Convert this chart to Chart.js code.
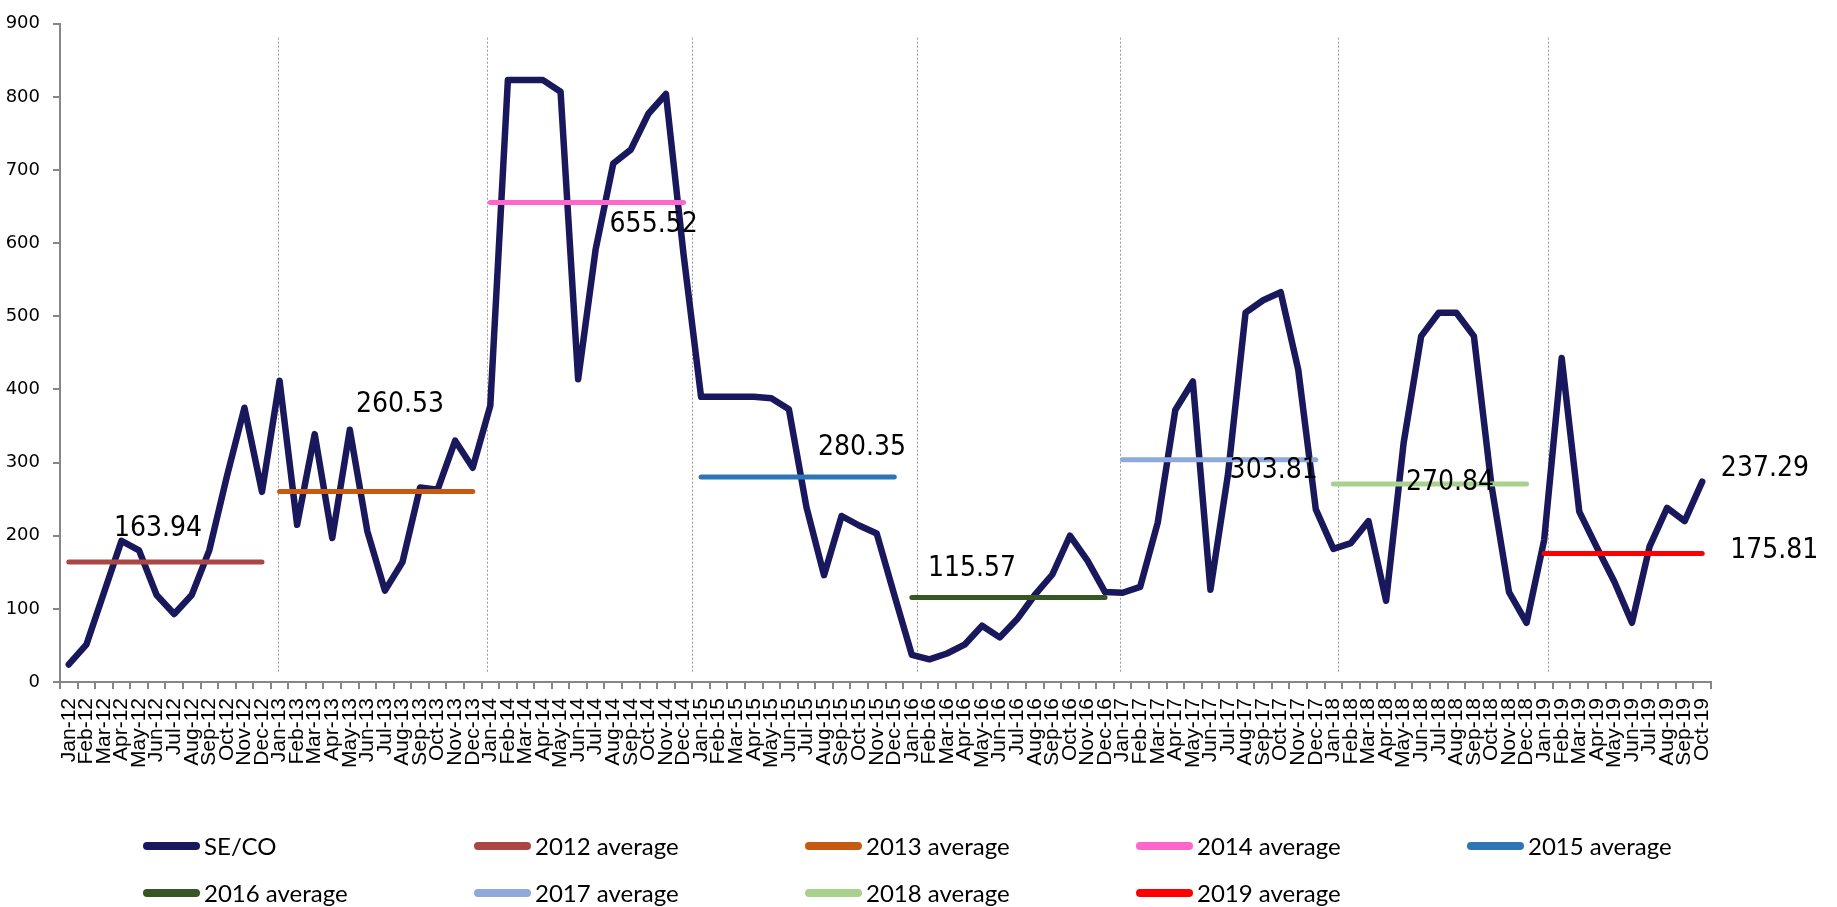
<!DOCTYPE html>
<html>
<head>
<meta charset="utf-8">
<script src="https://cdn.jsdelivr.net/npm/chart.js@4.4.1/dist/chart.umd.min.js"></script>
<style>
  html, body { margin: 0; padding: 0; background: #fff; }
  #wrap { position: relative; width: 1837px; height: 907px; overflow: hidden; }
  #legend {
    position: absolute; left: 143px; top: 822px;
    display: grid; grid-template-columns: repeat(5, 331px); grid-auto-rows: 47px;
    font-family: Lato, "Open Sans", sans-serif; font-size: 24px; color: #000;
  }
  #legend .item { display: flex; align-items: center; white-space: nowrap; }
  #legend .sw { width: 57px; height: 8px; border-radius: 4px; margin-right: 4px; flex: none; }
</style>
</head>
<body>
<div id="wrap">
  <canvas id="chart" width="1837" height="907"></canvas>
  <div id="legend"></div>
</div>
<script>
// Month and year parts of the category labels
const monthNames = ['Jan', 'Feb', 'Mar', 'Apr', 'May', 'Jun', 'Jul', 'Aug', 'Sep', 'Oct', 'Nov', 'Dec'];
const yearSuffixes = ['12', '13', '14', '15', '16', '17', '18', '19'];

// SE/CO monthly values, one array per year
const seco2012 = [24, 51, 122, 193, 180, 119, 93, 119, 180, 281, 375, 260];
const seco2013 = [412, 215, 339, 197, 345, 206, 125, 164, 266, 263, 330, 293];
const seco2014 = [378, 823, 823, 823, 807, 414, 592, 709, 728, 777, 804, 585];
const seco2015 = [390, 390, 390, 390, 388, 373, 239, 146, 227, 214, 203, 119];
const seco2016 = [37, 31, 39, 51, 77, 61, 86, 119, 147, 200, 166, 123];
const seco2017 = [122, 130, 218, 372, 411, 126, 284, 505, 522, 533, 427, 236];
const seco2018 = [182, 190, 220, 111, 327, 473, 505, 505, 473, 269, 123, 81];
const seco2019 = [194, 443, 233, 184, 137, 81, 185, 238, 220, 274];

// Yearly averages
const yearAverages = [163.94, 260.53, 655.52, 280.35, 115.57, 303.81, 270.84, 175.81];
const averageNames = ['2012 average', '2013 average', '2014 average', '2015 average',
                      '2016 average', '2017 average', '2018 average', '2019 average'];
const averageColors = ['#AA4643', '#C65A11', '#FF66CC', '#2E75B6',
                       '#375623', '#8EA9DB', '#A9D18E', '#FF0000'];

// Text annotations: text, category position, value position
const noteTexts = ['163.94', '260.53', '655.52', '280.35', '115.57', '303.81', '270.84', '237.29', '175.81'];
const noteIndex = [5.08, 18.86, 33.3, 45.16, 51.43, 68.6, 78.64, 96.57, 97.1];
const noteValue = [210, 379, 625, 321, 155, 289, 272, 291, 179];

// y axis ticks
const yMin = 0, yMax = 900, yStep = 100;
// dotted year separators: category positions and value span
const dividerIndex = [11.9, 23.8, 35.5, 48.3, 59.85, 72.25, 84.2];
const dividerFrom = 12, dividerTo = 881;

const seriesByYear = [seco2012, seco2013, seco2014, seco2015, seco2016, seco2017, seco2018, seco2019];

const categories = [];
const yearStart = [];
seriesByYear.forEach((vals, y) => {
  yearStart.push(categories.length);
  vals.forEach((_, m) => categories.push(monthNames[m] + '-' + yearSuffixes[y]));
});
const secoValues = seriesByYear.flat();

const averageDatasets = yearAverages.map((avg, y) => {
  const data = categories.map(() => null);
  for (let i = 0; i < seriesByYear[y].length; i++) data[yearStart[y] + i] = avg;
  return {
    label: averageNames[y],
    data,
    borderColor: averageColors[y],
    backgroundColor: averageColors[y],
    borderWidth: 5,
    borderCapStyle: 'round',
    pointRadius: 0,
    pointHoverRadius: 0,
    spanGaps: false,
    order: 0
  };
});

const secoDataset = {
  label: 'SE/CO',
  data: secoValues,
  borderColor: '#1A185C',
  backgroundColor: '#1A185C',
  borderWidth: 6.5,
  borderCapStyle: 'round',
  borderJoinStyle: 'round',
  pointRadius: 0,
  pointHoverRadius: 0,
  tension: 0,
  order: 10
};

// Dotted separators between years
const yearDividers = {
  id: 'yearDividers',
  beforeDatasetsDraw(chart) {
    const { ctx, scales: { x, y } } = chart;
    ctx.save();
    ctx.strokeStyle = '#9a9a9a';
    ctx.lineWidth = 1;
    ctx.setLineDash([2, 2]);
    const top = y.getPixelForValue(dividerTo);
    const bottom = y.getPixelForValue(dividerFrom);
    dividerIndex.forEach(idx => {
      const px = Math.round(x.getPixelForValue(idx)) + 0.5;
      ctx.beginPath();
      ctx.moveTo(px, top);
      ctx.lineTo(px, bottom);
      ctx.stroke();
    });
    ctx.restore();
  }
};

// Average value annotations
const valueNotes = {
  id: 'valueNotes',
  afterDatasetsDraw(chart) {
    const { ctx, scales: { x, y } } = chart;
    ctx.save();
    ctx.fillStyle = '#000';
    ctx.font = '28px "DejaVu Sans Condensed", "Open Sans", sans-serif';
    ctx.textAlign = 'center';
    ctx.textBaseline = 'middle';
    noteTexts.forEach((t, i) => {
      ctx.fillText(t, x.getPixelForValue(noteIndex[i]), y.getPixelForValue(noteValue[i]));
    });
    ctx.restore();
  }
};

const chart = new Chart(document.getElementById('chart'), {
  type: 'line',
  data: { labels: categories, datasets: [secoDataset, ...averageDatasets] },
  options: {
    responsive: false,
    devicePixelRatio: 1,
    animation: false,
    events: [],
    layout: { padding: { top: 15, right: 126, left: 0, bottom: 0 } },
    plugins: { legend: { display: false }, tooltip: { enabled: false } },
    scales: {
      x: {
        type: 'category',
        offset: true,
        border: { display: true, color: '#868686', width: 2 },
        grid: { offset: true, drawOnChartArea: false, drawTicks: true, tickLength: 7, color: '#868686', lineWidth: 2 },
        ticks: {
          autoSkip: false, minRotation: 90, maxRotation: 90, padding: 9,
          color: '#000',
          font: { family: '"Liberation Sans", Arial, sans-serif', size: 21 }
        },
        afterFit(scale) { scale.height = 225; }
      },
      y: {
        min: yMin, max: yMax,
        border: { display: true, color: '#868686', width: 2 },
        grid: { drawOnChartArea: false, drawTicks: true, tickLength: 7, color: '#868686', lineWidth: 2 },
        ticks: {
          stepSize: yStep, padding: 13, color: '#000',
          font: { family: '"DejaVu Sans", Verdana, sans-serif', size: 18 }
        },
        afterFit(scale) { scale.width = 60; }
      }
    }
  },
  plugins: [yearDividers, valueNotes]
});

// Legend built from the chart's datasets, laid out in fixed columns
const legendEl = document.getElementById('legend');
chart.data.datasets.forEach(ds => {
  const item = document.createElement('div');
  item.className = 'item';
  const sw = document.createElement('span');
  sw.className = 'sw';
  sw.style.background = ds.borderColor;
  const label = document.createElement('span');
  label.textContent = ds.label;
  item.appendChild(sw);
  item.appendChild(label);
  legendEl.appendChild(item);
});
</script>
</body>
</html>
